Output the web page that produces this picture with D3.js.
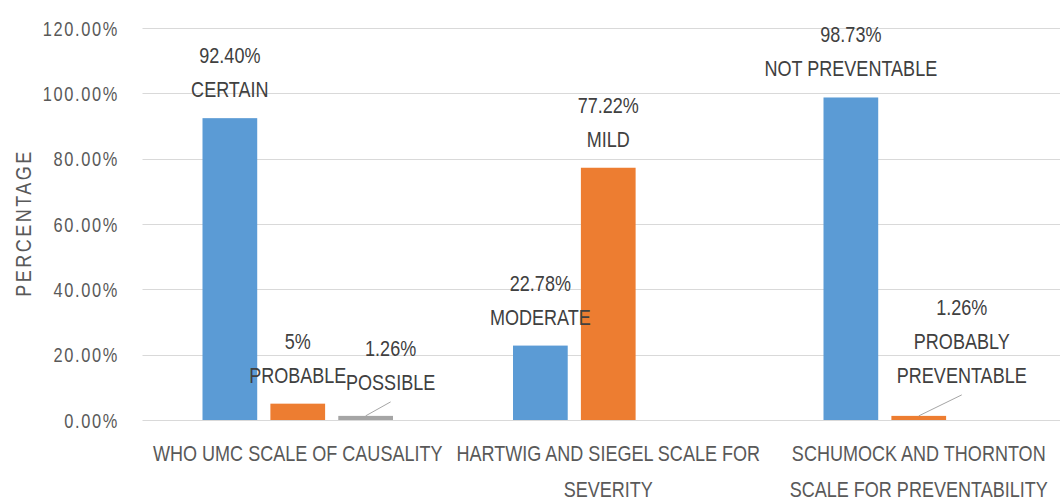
<!DOCTYPE html>
<html>
<head>
<meta charset="utf-8">
<script src="https://cdn.jsdelivr.net/npm/d3@7"></script>
<style>
  html, body { margin: 0; padding: 0; background: #ffffff; }
  svg { display: block; }
  text { font-family: "Liberation Sans", Arial, sans-serif; }
</style>
</head>
<body>
<svg id="chart" width="1060" height="502"></svg>
<script>
// ---- data ----
const categories = [
  "WHO UMC SCALE OF CAUSALITY",
  "HARTWIG AND SIEGEL SCALE FOR SEVERITY",
  "SCHUMOCK AND THORNTON SCALE FOR PREVENTABILITY"
];
const categoryLines = [
  ["WHO UMC SCALE OF CAUSALITY"],
  ["HARTWIG AND SIEGEL SCALE FOR", "SEVERITY"],
  ["SCHUMOCK AND THORNTON", "SCALE FOR PREVENTABILITY"]
];
const seriesNames = ["Series1", "Series2", "Series3"];
const series1Values = [0.9240, 0.2278, 0.9873];
const series2Values = [0.05, 0.7722, 0.0126];
const series3Values = [0.0126, null, null];
const series1Labels = [["92.40%", "CERTAIN"], ["22.78%", "MODERATE"], ["98.73%", "NOT PREVENTABLE"]];
const series2Labels = [["5%", "PROBABLE"], ["77.22%", "MILD"], ["1.26%", "PROBABLY", "PREVENTABLE"]];
const series3Labels = [["1.26%", "POSSIBLE"], null, null];
const yTicks = [0, 0.2, 0.4, 0.6, 0.8, 1.0, 1.2];
const yTitle = "PERCENTAGE";

// ---- styling / layout ----
const colors = ["#5b9bd5", "#ed7d31", "#a5a5a5"];
const plotLeft = 142.5, plotRight = 1074, plotTop = 28, plotBottom = 420;
const SX = 0.82; // horizontal condensing of text to mimic a narrow face

const svg = d3.select("#chart");

function addText(g, x, yy, str, size, fill, spacing) {
  return g.append("text")
    .attr("transform", `translate(${x},${yy}) scale(${SX},1)`)
    .attr("text-anchor", "middle")
    .attr("fill", fill)
    .style("font-size", size + "px")
    .style("letter-spacing", (spacing || 0) + "px")
    .text(str);
}

const x0 = d3.scaleBand().domain(categories).range([plotLeft, plotRight]).padding(0);
const x1 = d3.scaleBand().domain(seriesNames).range([60, x0.bandwidth() - 60]).paddingInner(0.194).paddingOuter(0);
const y = d3.scaleLinear().domain([0, 1.2]).range([plotBottom, plotTop]);

// gridlines
svg.append("g")
  .selectAll("line")
  .data(yTicks)
  .join("line")
  .attr("x1", plotLeft)
  .attr("x2", 1060)
  .attr("y1", d => Math.round(y(d)) + 0.5)
  .attr("y2", d => Math.round(y(d)) + 0.5)
  .attr("stroke", "#d9d9d9")
  .attr("stroke-width", 1);

// y axis labels
const yAxis = d3.axisLeft(y).tickValues(yTicks).tickFormat(d3.format(".2%")).tickSize(0).tickPadding(0);
const yg = svg.append("g").attr("transform", `translate(119,0)`).call(yAxis);
yg.select(".domain").remove();
yg.selectAll("text")
  .attr("x", 0)
  .attr("transform", `scale(${SX},1)`)
  .attr("fill", "#595959")
  .style("font-family", '"Liberation Sans", Arial, sans-serif')
  .style("font-size", "20px")
  .style("letter-spacing", "2px")
  .attr("dy", "0.36em");

// y title
svg.append("text")
  .attr("transform", `translate(31,223) rotate(-90) scale(${SX},1)`)
  .attr("text-anchor", "middle")
  .attr("fill", "#595959")
  .style("font-size", "22px")
  .style("letter-spacing", "3px")
  .text(yTitle);

// bars
const allSeries = [series1Values, series2Values, series3Values];
const allLabels = [series1Labels, series2Labels, series3Labels];
const barData = [];
allSeries.forEach((vals, si) => {
  vals.forEach((v, ci) => {
    if (v === null) return;
    barData.push({ si, ci, v, cat: categories[ci], s: seriesNames[si], label: allLabels[si][ci] });
  });
});

svg.append("g")
  .selectAll("rect")
  .data(barData)
  .join("rect")
  .attr("x", d => x0(d.cat) + x1(d.s))
  .attr("y", d => y(d.v))
  .attr("width", x1.bandwidth())
  .attr("height", d => y(0) - y(d.v))
  .attr("fill", d => colors[d.si]);

// data labels
// label placement tweaks for small bars that use leader lines (pixel offsets)
const leaderTweak = { "2-0": { dx: 25, lift: 26 }, "1-2": { dx: 43, lift: 33 } };
const lineGap = 34;
const lg = svg.append("g");
barData.forEach(d => {
  if (!d.label) return;
  const cx = x0(d.cat) + x1(d.s) + x1.bandwidth() / 2;
  const top = y(d.v);
  const tw = leaderTweak[d.si + "-" + d.ci];
  const lx = tw ? cx + tw.dx : cx;
  const lastBase = tw ? top - tw.lift : top - 21;
  const n = d.label.length;
  d.label.forEach((t, i) => {
    addText(lg, lx, lastBase - (n - 1 - i) * lineGap, t, 22, "#404040", 0);
  });
  if (tw) {
    lg.append("line")
      .attr("x1", cx).attr("y1", top)
      .attr("x2", lx).attr("y2", lastBase + 12)
      .attr("stroke", "#a5a5a5")
      .attr("stroke-width", 1);
  }
});

// x category labels
const xg = svg.append("g");
categories.forEach((c, ci) => {
  const cx = x0(c) + x0.bandwidth() / 2;
  categoryLines[ci].forEach((t, li) => {
    addText(xg, cx, 461 + li * 36, t, 22, "#595959", 0);
  });
});
</script>
</body>
</html>
